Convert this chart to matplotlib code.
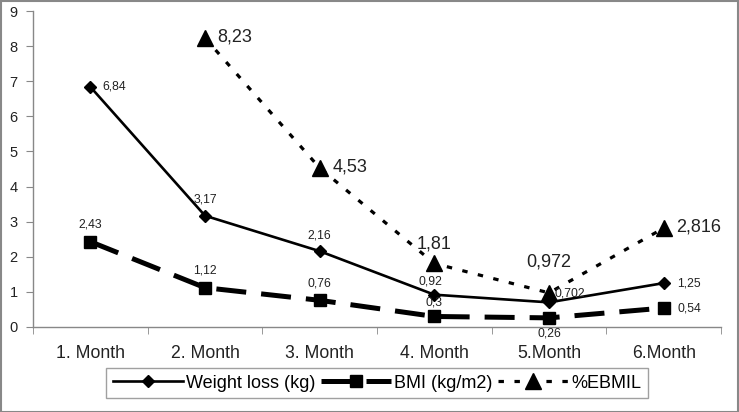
import matplotlib
matplotlib.use("Agg")
import matplotlib.pyplot as plt
from matplotlib.patches import Rectangle
import numpy as np

plt.rcParams['font.family'] = ['Liberation Sans', 'DejaVu Sans']

months = ["1. Month", "2. Month", "3. Month", "4. Month", "5.Month", "6.Month"]
weight_loss = [6.84, 3.17, 2.16, 0.92, 0.702, 1.25]
bmi = [2.43, 1.12, 0.76, 0.3, 0.26, 0.54]
ebmil = [None, 8.23, 4.53, 1.81, 0.972, 2.816]
wl_labels = ["6,84", "3,17", "2,16", "0,92", "0,702", "1,25"]
bmi_labels = ["2,43", "1,12", "0,76", "0,3", "0,26", "0,54"]
eb_labels = [None, "8,23", "4,53", "1,81", "0,972", "2,816"]

fig = plt.figure(figsize=(7.39, 4.12), dpi=100)
ax = fig.add_axes([33/739, 1-327/412, (721-33)/739, (327-11)/412])
x = np.arange(len(months))

ax.plot(x, weight_loss, color='black', lw=1.9, marker='D', ms=6.5, label='Weight loss (kg)', zorder=3)
ax.plot(x, bmi, color='black', lw=3.6, ls=(0, (6, 3)), marker='s', ms=8, label='BMI (kg/m2)', zorder=3)
xe = [xi for xi, v in zip(x, ebmil) if v is not None]
ye = [v for v in ebmil if v is not None]
ax.plot(xe, ye, color='black', lw=2.3, ls=(0, (1.7, 3.3)), marker='^', ms=11, label='%EBMIL', zorder=3)

small = dict(fontsize=8.8, color='#222222')
wl_off = [(9, 0, 'left', 'center'), (0, 7, 'center', 'bottom'), (0, 7, 'center', 'bottom'),
          (-3, 5, 'center', 'bottom'), (4, 2, 'left', 'bottom'), (10, 0, 'left', 'center')]
for xi, v, lab, (dx, dy, ha, va) in zip(x, weight_loss, wl_labels, wl_off):
    ax.annotate(lab, (xi, v), xytext=(dx, dy), textcoords='offset points', ha=ha, va=va, **small)
bmi_off = [(0, 8, 'center', 'bottom'), (0, 8, 'center', 'bottom'), (0, 8, 'center', 'bottom'),
           (0, 6, 'center', 'bottom'), (0, -7, 'center', 'top'), (10, 0, 'left', 'center')]
for xi, v, lab, (dx, dy, ha, va) in zip(x, bmi, bmi_labels, bmi_off):
    ax.annotate(lab, (xi, v), xytext=(dx, dy), textcoords='offset points', ha=ha, va=va, **small)
eb_off = [None, (9, 1, 'left', 'center'), (9, 1, 'left', 'center'), (0, 8, 'center', 'bottom'),
          (0, 16, 'center', 'bottom'), (9, 1, 'left', 'center')]
for xi, v, lab, off in zip(x, ebmil, eb_labels, eb_off):
    if v is None:
        continue
    dx, dy, ha, va = off
    ax.annotate(lab, (xi, v), xytext=(dx, dy), textcoords='offset points', ha=ha, va=va,
                fontsize=13, color='#222222')

ax.set_xlim(-0.5, 5.5)
ax.set_ylim(0, 9)
ax.set_yticks(range(0, 10))
ax.set_xticks(x)
ax.set_xticklabels(months, fontsize=12.7)
ax.set_xticks(np.arange(-0.5, 6.0, 1.0), minor=True)
ax.tick_params(axis='x', which='major', length=0, pad=13, labelcolor='#222222')
ax.tick_params(axis='x', which='minor', length=5, color='#888888', direction='out')
ax.tick_params(axis='y', length=5, color='#888888', direction='out', labelsize=10.5,
               labelcolor='#222222', pad=6)
for s in ['top', 'right']:
    ax.spines[s].set_visible(False)
for s in ['left', 'bottom']:
    ax.spines[s].set_color('#888888')
    ax.spines[s].set_linewidth(1)

leg = fig.legend(loc='center', bbox_to_anchor=((107+647)/2/739, 1-383/412), ncol=3,
                 fontsize=13, frameon=True, fancybox=False, edgecolor='#888888',
                 handlelength=3.9, columnspacing=0.3, handletextpad=0.15, borderpad=0.38)
leg.get_frame().set_linewidth(1)

fig.patches.append(Rectangle((0.5/739, 0.5/412), 1-1.5/739, 1-1.5/412, transform=fig.transFigure,
                             fill=False, edgecolor='#888888', lw=1.5))
fig.savefig('out.png', dpi=100)
